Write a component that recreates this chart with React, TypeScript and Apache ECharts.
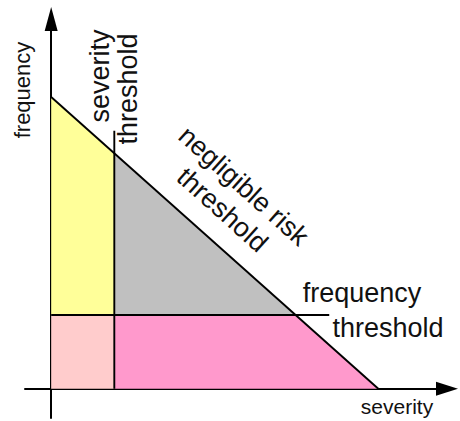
import React, { useEffect, useRef } from "react";
import * as echarts from "echarts";

// Axis ranges (arbitrary units: y-axis at severity 0, risk line reaches the x-axis at severity 100)
const severityRange = [-8, 121];
const frequencyRange = [-10, 126.7];

// Thresholds
const severityThreshold = 19.3;
const frequencyThreshold = 25.3;
const severityLineTop = 88.4;
const frequencyLineEnd = 85;

// Negligible risk threshold line: [severity, frequency]
const riskLine = [
  [0, 100],
  [100, 0],
];

// Coloured regions, as polygons of [severity, frequency]
const regionNames = ["severity below threshold", "tolerable", "both below", "frequency below threshold"];
const regionPolygons = [
  [[0, 25.3], [0, 100], [19.3, 80.7], [19.3, 25.3]],
  [[19.3, 25.3], [19.3, 80.7], [74.7, 25.3]],
  [[0, 0], [0, 25.3], [19.3, 25.3], [19.3, 0]],
  [[19.3, 0], [19.3, 25.3], [74.7, 25.3], [100, 0]],
];
const regionColors = ["#FFFF99", "#C0C0C0", "#FFCCCC", "#FF99CC"];

const FONT = '"Liberation Sans", Arial, sans-serif';

export default function App() {
  const ref = useRef<HTMLDivElement>(null);
  useEffect(() => {
    document.body.style.margin = "0";
    const chart = echarts.init(ref.current!, null, { renderer: "svg" });
    const lineStyleBlack = { color: "#000", width: 1.9 };
    const txt = (text: string, x: number, y: number, size: number, rotation = 0, extra: any = {}) => ({
      type: "text",
      x,
      y,
      rotation,
      style: {
        text,
        fill: "#111",
        fontSize: size,
        fontFamily: FONT,
        textAlign: "center",
        textVerticalAlign: "middle",
        align: "center",
        verticalAlign: "middle",
        ...extra,
      },
    });
    chart.setOption({
      animation: false,
      backgroundColor: "#fff",
      grid: { left: 25, top: 19, width: 422, height: 399, containLabel: false },
      xAxis: {
        type: "value",
        min: severityRange[0],
        max: severityRange[1],
        splitLine: { show: false },
        axisTick: { show: false },
        axisLabel: { show: false },
        axisLine: {
          show: true,
          onZero: true,
          symbol: ["none", "triangle"],
          symbolSize: [14, 22],
          lineStyle: { color: "#000", width: 2 },
        },
      },
      yAxis: {
        type: "value",
        min: frequencyRange[0],
        max: frequencyRange[1],
        splitLine: { show: false },
        axisTick: { show: false },
        axisLabel: { show: false },
        axisLine: {
          show: true,
          onZero: true,
          symbol: ["none", "triangle"],
          symbolSize: [13, 24],
          lineStyle: { color: "#000", width: 2 },
        },
      },
      series: [
        {
          type: "custom",
          name: "regions",
          data: regionNames.map((n, i) => ({ name: n, value: [i] })),
          renderItem: (params: any, api: any) => {
            const i = params.dataIndex;
            return {
              type: "polygon",
              shape: { points: regionPolygons[i].map((p) => api.coord(p)) },
              style: { fill: regionColors[i], stroke: null },
            };
          },
          z: 1,
        },
        {
          type: "line",
          name: "negligible risk threshold",
          data: riskLine,
          symbol: "none",
          lineStyle: lineStyleBlack,
          z: 3,
        },
        {
          type: "line",
          name: "severity threshold",
          data: [
            [severityThreshold, 0],
            [severityThreshold, severityLineTop],
          ],
          symbol: "none",
          lineStyle: lineStyleBlack,
          z: 3,
        },
        {
          type: "line",
          name: "frequency threshold",
          data: [
            [0, frequencyThreshold],
            [frequencyLineEnd, frequencyThreshold],
          ],
          symbol: "none",
          lineStyle: lineStyleBlack,
          z: 3,
        },
      ],
      graphic: [
        txt("frequency", 22, 90, 22, Math.PI / 2),
        txt("severity", 100, 76, 27, Math.PI / 2),
        txt("threshold", 128, 89, 27, Math.PI / 2),
        txt("negligible risk\nthreshold", 233, 198, 27, -0.73, { lineHeight: 32 }),
        txt("frequency", 362, 293, 27),
        txt("threshold", 388, 328, 27),
        txt("severity", 397, 406, 21),
      ],
    });
    return () => chart.dispose();
  }, []);
  return <div ref={ref} style={{ width: 460, height: 421 }} />;
}
